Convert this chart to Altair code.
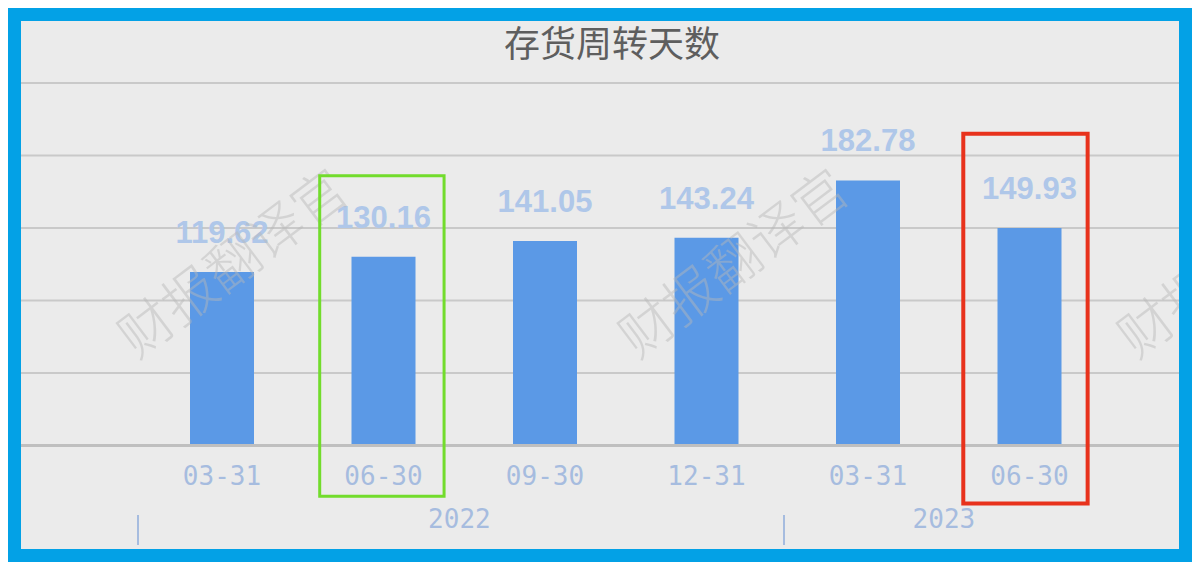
import altair as alt
import pandas as pd

# ---- data ----
dates = ["03-31", "06-30", "09-30", "12-31", "03-31", "06-30"]
years = ["2022", "2022", "2022", "2022", "2023", "2023"]
values = [119.62, 130.16, 141.05, 143.24, 182.78, 149.93]
grid_values = [50, 100, 150, 200, 250]
title_text = "存货周转天数"
watermark = "财报翻译官"

# highlight boxes (centre in bar-index units, top / bottom in value units)
hl_green = {"idx": [0.99], "top": [186], "bottom": [-35]}
hl_red = {"idx": [4.975], "top": [215], "bottom": [-40]}
# watermark anchors (bar-index units, value units)
wm_idx = [0.08, 3.18, 6.27]
wm_val = [124, 124, 124]

df = pd.DataFrame({"idx": list(range(len(values))), "date": dates, "year": years, "value": values})

XS = alt.Scale(domain=[0, 5], range=[201, 1008.5], nice=False, zero=False, padding=0)
YS = alt.Scale(domain=[0, 250], range=[424.5, 62], nice=False, padding=0)

x_enc = alt.X("idx:Q", scale=XS, axis=None)

grid = alt.Chart(pd.DataFrame({"g": grid_values})).mark_rule(color="#c9c9c9", strokeWidth=2).encode(
    y=alt.Y("g:Q", scale=YS, axis=None)
)

bars = alt.Chart(df).mark_bar(size=64, color="#5b99e6").encode(
    x=x_enc,
    y=alt.Y("value:Q", scale=YS, axis=None),
)

zero_line = alt.Chart(pd.DataFrame({"v": [0]})).mark_rule(color="#bfbfbf", strokeWidth=3).encode(
    y=alt.Y("v:Q", scale=YS, axis=None)
)

value_labels = alt.Chart(df).mark_text(
    dy=-29, baseline="alphabetic", fontSize=31, font="Liberation Sans", fontWeight="bold",
    color="#afc7e9"
).encode(x=x_enc, y=alt.Y("value:Q", scale=YS, axis=None), text=alt.Text("value:Q", format=".2f"))

date_labels = alt.Chart(df).mark_text(
    baseline="middle", fontSize=26, font="DejaVu Sans Mono", color="#a6bcdf"
).encode(x=x_enc, y=alt.value(456), text="date:N")

year_base = alt.Chart(df).transform_aggregate(
    mid="mean(idx)", start="min(idx)", groupby=["year"]
).transform_calculate(sep="datum.start - 0.52", midx="datum.mid - 0.03")

year_labels = year_base.mark_text(
    baseline="middle", fontSize=26, font="DejaVu Sans Mono", color="#a6bcdf"
).encode(x=alt.X("midx:Q", scale=XS, axis=None), y=alt.value(499), text="year:N")

year_seps = year_base.mark_rule(color="#a6bcdf", strokeWidth=2).encode(
    x=alt.X("sep:Q", scale=XS, axis=None), y=alt.value(494), y2=alt.value(524)
)

def box(d, color, width):
    return alt.Chart(pd.DataFrame(d)).transform_calculate(
        x1="datum.idx - 0.385", x2="datum.idx + 0.385"
    ).mark_rect(fillOpacity=0, stroke=color, strokeWidth=width).encode(
        x=alt.X("x1:Q", scale=XS, axis=None), x2="x2:Q",
        y=alt.Y("top:Q", scale=YS, axis=None), y2="bottom:Q",
    )

green_box = box(hl_green, "#72dc2c", 3)
red_box = box(hl_red, "#e8321c", 4)

wm = alt.Chart(pd.DataFrame({"i": wm_idx, "v": wm_val, "t": [watermark] * len(wm_idx)})).mark_text(
    angle=323, fontSize=54, font="Noto Sans CJK SC", fontWeight=300, color="#b8b8b8",
    opacity=0.45, clip=True, baseline="middle", align="center"
).encode(x=alt.X("i:Q", scale=XS, axis=None), y=alt.Y("v:Q", scale=YS, axis=None), text="t:N")

title = alt.Chart(pd.DataFrame({"t": [title_text]})).mark_text(
    fontSize=36, font="Noto Sans CJK SC", color="#5e5e5e", baseline="middle", align="center"
).encode(x=alt.value(591), y=alt.value(25), text="t:N")

chart = alt.layer(
    grid, bars, zero_line, value_labels, date_labels, year_labels, year_seps,
    wm, green_box, red_box, title
).properties(
    width=1158, height=528, padding=13, autosize=alt.AutoSizeParams(type="none"),
    background="#03a1e6"
).configure_view(fill="#ebebeb", stroke=None)

chart.save("out.html", embed_options={"renderer": "svg", "actions": False})
